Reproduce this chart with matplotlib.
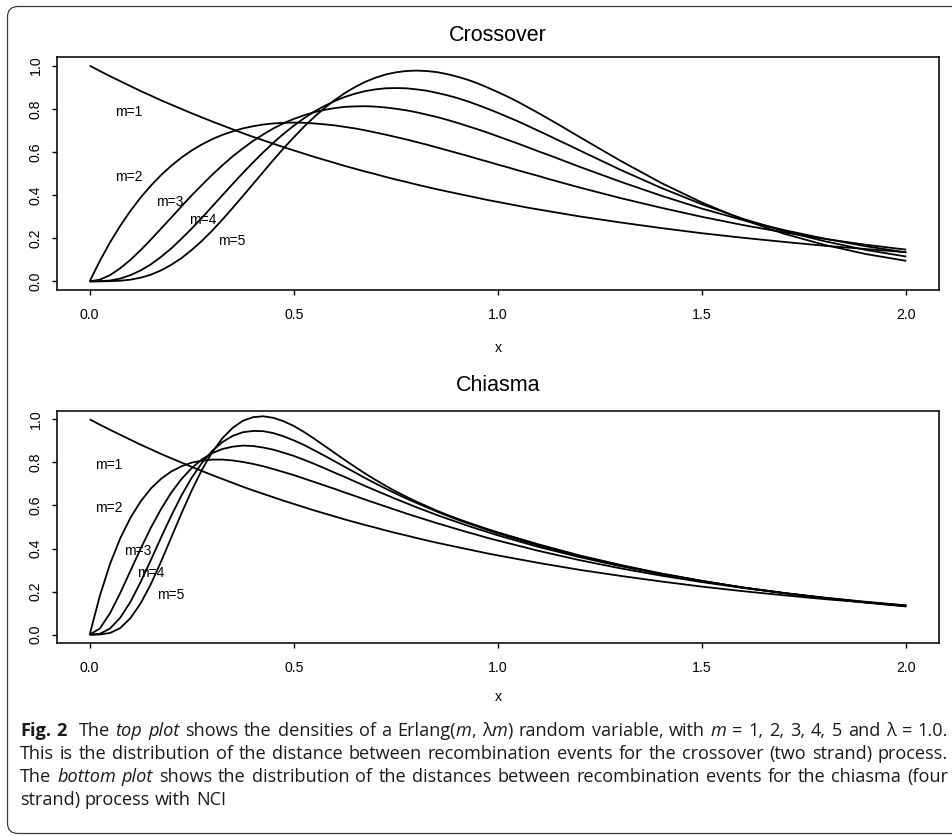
import re
import numpy as np
import matplotlib
matplotlib.use("Agg")
import matplotlib.pyplot as plt
from matplotlib.patches import FancyBboxPatch

# ---------------- data (densities, x1000) ----------------
x_top = [0.000, 0.025, 0.050, 0.075, 0.100, 0.125, 0.150, 0.175, 0.200, 0.225, 0.250,
         0.275, 0.300, 0.325, 0.350, 0.375, 0.400, 0.425, 0.450, 0.475, 0.500, 0.525,
         0.550, 0.575, 0.600, 0.625, 0.650, 0.675, 0.700, 0.725, 0.750, 0.775, 0.800,
         0.825, 0.850, 0.875, 0.900, 0.925, 0.950, 0.975, 1.000, 1.025, 1.050, 1.075,
         1.100, 1.125, 1.150, 1.175, 1.200, 1.300, 1.400, 1.500, 1.600, 1.700, 1.800,
         1.900, 2.000]
top_m1 = [1000, 975, 951, 928, 905, 882, 861, 839, 819, 799, 779, 760, 741, 723, 705, 687, 670,
          654, 638, 622, 607, 592, 577, 563, 549, 535, 522, 509, 497, 484, 472, 461, 449, 438,
          427, 417, 407, 397, 387, 377, 368, 359, 350, 341, 333, 325, 317, 309, 301,
          273, 247, 223, 202, 183, 165, 150, 135]
top_m2 = [0, 95, 181, 258, 327, 389, 444, 493, 536, 574, 607, 635, 659, 679, 695, 709, 719,
          727, 732, 735, 736, 735, 732, 728, 723, 716, 709, 700, 690, 680, 669, 658, 646, 634,
          621, 608, 595, 582, 568, 555, 541, 528, 514, 501, 488, 474, 461, 448, 435,
          386, 341, 299, 261, 227, 197, 170, 147]
top_m3 = [0, 8, 29, 61, 100, 145, 194, 245, 296, 348, 399, 447, 494, 538, 579, 616, 651,
          681, 709, 733, 753, 770, 784, 795, 803, 809, 811, 812, 810, 806, 800, 793, 784, 773,
          762, 749, 735, 720, 705, 689, 672, 655, 638, 620, 602, 585, 567, 549, 531,
          462, 397, 337, 284, 238, 198, 163, 134]
top_m4 = [0, 1, 4, 13, 29, 51, 79, 114, 153, 198, 245, 295, 347, 399, 451, 502, 551,
          598, 643, 684, 722, 756, 787, 813, 836, 855, 870, 882, 890, 895, 896, 895, 890, 884,
          874, 863, 850, 835, 818, 800, 781, 761, 741, 719, 697, 675, 652, 630, 607,
          517, 433, 357, 290, 233, 186, 146, 115]
top_m5 = [0, 0, 1, 3, 8, 17, 31, 51, 77, 108, 146, 188, 235, 286, 340, 395, 451,
          507, 563, 617, 668, 717, 762, 803, 840, 873, 901, 925, 944, 959, 969, 975, 977, 975,
          970, 961, 949, 935, 918, 898, 877, 855, 831, 805, 779, 752, 725, 697, 669,
          559, 456, 365, 286, 221, 169, 127, 95]

x_bot = [0.000, 0.025, 0.050, 0.075, 0.100, 0.125, 0.150, 0.175, 0.200, 0.225, 0.250,
         0.275, 0.300, 0.325, 0.350, 0.375, 0.400, 0.425, 0.450, 0.475, 0.500, 0.525,
         0.550, 0.575, 0.600, 0.625, 0.650, 0.675, 0.700, 0.725, 0.750, 0.775, 0.800,
         0.825, 0.850, 0.875, 0.900, 0.925, 0.950, 0.975, 1.000, 1.100, 1.200, 1.300,
         1.400, 1.500, 1.600, 1.700, 1.800, 1.900, 2.000]
bot_m1 = [1000, 975, 951, 928, 905, 882, 861, 839, 819, 799, 779, 760, 741, 723, 705, 687, 670,
          654, 638, 622, 607, 592, 577, 563, 549, 535, 522, 509, 497, 484, 472, 461, 449, 438,
          427, 417, 407, 397, 387, 377, 368, 333, 301, 273, 247, 223, 202, 183, 165, 150, 135]
bot_m2 = [0, 181, 329, 448, 543, 619, 679, 724, 758, 782, 799, 808, 813, 813, 809, 802, 793,
          782, 769, 755, 741, 725, 709, 693, 677, 660, 644, 627, 611, 595, 579, 563, 548, 533,
          518, 504, 490, 476, 463, 449, 437, 389, 346, 308, 274, 244, 217, 193, 172, 153, 136]
bot_m3 = [0, 29, 100, 194, 297, 400, 497, 584, 660, 723, 774, 814, 843, 862, 873, 878, 876,
          869, 859, 845, 830, 812, 793, 773, 752, 732, 711, 690, 670, 650, 630, 611, 592, 574,
          556, 539, 523, 506, 491, 476, 461, 407, 360, 318, 281, 248, 219, 194, 171, 151, 134]
bot_m4 = [0, 4, 29, 79, 153, 245, 347, 452, 553, 647, 729, 798, 853, 894, 923, 940, 946,
          945, 936, 921, 902, 881, 856, 831, 805, 779, 753, 727, 702, 678, 655, 633, 612, 592,
          572, 553, 535, 518, 502, 486, 470, 414, 365, 321, 283, 249, 219, 193, 170, 150, 132]
bot_m5 = [0, 1, 8, 31, 77, 146, 235, 340, 452, 564, 670, 766, 847, 912, 960, 993, 1010,
          1014, 1007, 991, 969, 941, 910, 877, 844, 811, 779, 748, 719, 691, 665, 641, 618, 597,
          576, 557, 539, 522, 506, 490, 475, 419, 368, 324, 284, 250, 219, 193, 169, 149, 131]

curve_labels = ["m=1", "m=2", "m=3", "m=4", "m=5"]
x_ticks = [0.0, 0.5, 1.0, 1.5, 2.0]
x_ticklabels = ["0.0", "0.5", "1.0", "1.5", "2.0"]
y_ticks = [0.0, 0.2, 0.4, 0.6, 0.8, 1.0]
y_ticklabels = ["0.0", "0.2", "0.4", "0.6", "0.8", "1.0"]
titles = ["Crossover", "Chiasma"]

# anchor positions (data coords) of the m= annotations
top_label_pos = [(0.096, 0.786), (0.096, 0.485), (0.196, 0.369), (0.277, 0.285), (0.347, 0.189)]
bot_label_pos = [(0.047, 0.788), (0.047, 0.586), (0.117, 0.387), (0.149, 0.285), (0.198, 0.185)]

# ---------------- figure ----------------
W, H = 952, 836
DPI = 100
plt.rcParams['font.family'] = ['Liberation Sans', 'DejaVu Sans']
fig = plt.figure(figsize=(W / DPI, H / DPI), dpi=DPI)
fig.patch.set_facecolor("white")


def fx(px):
    return px / W


def fy(py):
    return 1 - py / H


frame = FancyBboxPatch((fx(7.5), fy(833.5)), fx(970) - fx(7.5), fy(6.5) - fy(833.5),
                       boxstyle="round,pad=0,rounding_size=0.011",
                       transform=fig.transFigure, facecolor="none",
                       edgecolor="#3a3a3a", linewidth=0.9, mutation_aspect=W / H)
fig.patches.append(frame)

panels = [
    dict(top=57, bottom=290, x=x_top, ys=[top_m1, top_m2, top_m3, top_m4, top_m5],
         labels=top_label_pos, title=titles[0], title_base=40.7, xlab_base=351.7),
    dict(top=410.7, bottom=643.3, x=x_bot, ys=[bot_m1, bot_m2, bot_m3, bot_m4, bot_m5],
         labels=bot_label_pos, title=titles[1], title_base=390.7, xlab_base=700.7),
]

left_px, right_px = 57, 939
for p in panels:
    ax = fig.add_axes([fx(left_px), fy(p["bottom"]), fx(right_px) - fx(left_px),
                       (p["bottom"] - p["top"]) / H])
    xs = np.array(p["x"])
    for ys in p["ys"]:
        ax.plot(xs, np.array(ys) / 1000.0, color="black", linewidth=1.3,
                solid_joinstyle="round", solid_capstyle="butt")
    for lab, (lx, ly) in zip(curve_labels, p["labels"]):
        ax.text(lx, ly, lab, fontsize=10, ha="center", va="center", color="black")
    ax.set_xlim(-0.08, 2.08)
    ax.set_ylim(-0.04, 1.04)
    ax.set_xticks(x_ticks)
    ax.set_xticklabels(x_ticklabels)
    ax.set_yticks(y_ticks)
    ax.set_yticklabels(y_ticklabels, rotation=90, va="center")
    ax.tick_params(axis="x", direction="out", length=3.6, width=1.0, pad=9.4,
                   labelsize=10.2, colors="black")
    ax.tick_params(axis="y", direction="out", length=3.6, width=1.0, pad=6.5,
                   labelsize=10.2, colors="black")
    for s in ax.spines.values():
        s.set_linewidth(1.2)
        s.set_color("#111111")
    fig.text(fx((left_px + right_px) / 2), fy(p["title_base"]), p["title"],
             fontsize=15.5, ha="center", va="baseline")
    fig.text(fx((left_px + right_px) / 2), fy(p["xlab_base"]), "x",
             fontsize=10.2, ha="center", va="baseline")

# ---------------- caption (justified) ----------------
cap_fam = ['Open Sans', 'DejaVu Sans']
cap_lines = [
    "#Fig. 2#  The _top plot_ shows the densities of a Erlang(_m_, λ_m_) random variable, "
    "with _m_ = 1, 2, 3, 4, 5 and λ = 1.0.",
    "This is the distribution of the distance between recombination events for the "
    "crossover (two strand) process.",
    "The _bottom plot_ shows the distribution of the distances between recombination "
    "events for the chiasma (four",
    "strand) process with NCI",
]
cap_justify = [True, True, True, False]
cap_baselines = [736, 759, 782, 805]
cap_left = 20
cap_target_width = 928

renderer = fig.canvas.get_renderer()


def parse(line):
    """Split a marked-up line into words (lists of (text, bold, italic)) and gap weights."""
    words, gaps = [], []
    bold = ital = False
    pending_gap = 0
    for tok in re.split(r"( +)", line):
        if tok == "":
            continue
        if tok.startswith(" "):
            pending_gap = len(tok)
            continue
        segs, buf = [], ""
        for ch in tok:
            if ch in "#_":
                if buf:
                    segs.append((buf, bold, ital))
                    buf = ""
                if ch == "#":
                    bold = not bold
                else:
                    ital = not ital
            else:
                buf += ch
        if buf:
            segs.append((buf, bold, ital))
        if words:
            gaps.append(pending_gap)
        words.append(segs)
        pending_gap = 0
    return words, gaps


def make_text(x, yb, s, b, i, size):
    return fig.text(fx(x), fy(yb), s, fontsize=size, family=cap_fam,
                    fontweight="bold" if b else "normal",
                    fontstyle="italic" if i else "normal",
                    ha="left", va="baseline", color="#1a1a1a")


def measure(s, b, i, size):
    t = make_text(0, 0, s, b, i, size)
    w = t.get_window_extent(renderer).width
    t.remove()
    return w


def space_width(size):
    return measure("a a", False, False, size) - measure("aa", False, False, size)


def natural_width(line, size):
    words, gaps = parse(line)
    ww = sum(measure(s, b, i, size) for w in words for (s, b, i) in w)
    return ww + sum(gaps) * space_width(size)


base = 11.0
longest = max(natural_width(l, base) for l in cap_lines)
cap_size = base * cap_target_width * 0.985 / longest
sp = space_width(cap_size)

for line, just, yb in zip(cap_lines, cap_justify, cap_baselines):
    words, gaps = parse(line)
    widths = [[measure(s, b, i, cap_size) for (s, b, i) in w] for w in words]
    total_words = sum(sum(w) for w in widths)
    unit = (cap_target_width - total_words) / sum(gaps) if just else sp
    x = cap_left
    for k, (w, ws) in enumerate(zip(words, widths)):
        for (s, b, i), wd in zip(w, ws):
            make_text(x, yb, s, b, i, cap_size)
            x += wd
        if k < len(gaps):
            x += gaps[k] * unit

fig.savefig("out.png", dpi=DPI, facecolor="white")
